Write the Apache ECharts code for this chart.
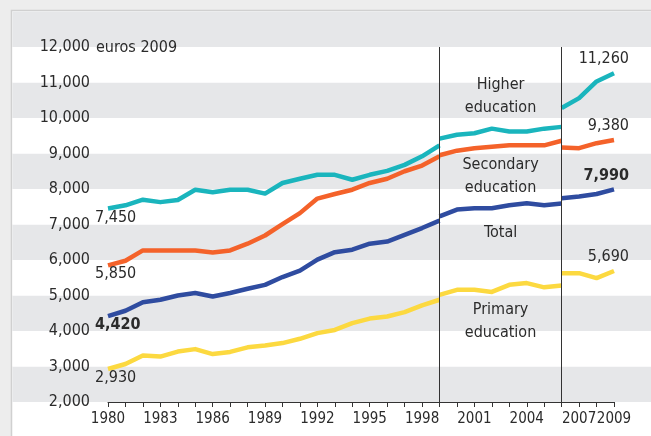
<!DOCTYPE html>
<html>
<head>
<meta charset="utf-8">
<script src="https://cdn.jsdelivr.net/npm/echarts@6/dist/echarts.min.js"></script>
<style>
  html, body { margin: 0; padding: 0; background: #ededed; }
  #chart { width: 651px; height: 436px; }
</style>
</head>
<body>
<div id="chart"></div>
<script>
// years for the three breaks in the series (1999 and 2006 change of method)
const years1 = [1980, 1981, 1982, 1983, 1984, 1985, 1986, 1987, 1988, 1989,
                1990, 1991, 1992, 1993, 1994, 1995, 1996, 1997, 1998, 1999];
const years2 = [1999, 2000, 2001, 2002, 2003, 2004, 2005, 2006];
const years3 = [2006, 2007, 2008, 2009];

const higher1 = [7450, 7540, 7700, 7630, 7690, 7980, 7910, 7980, 7980, 7870,
                 8170, 8290, 8400, 8400, 8260, 8400, 8510, 8680, 8920, 9230];
const higher2 = [9420, 9530, 9570, 9700, 9620, 9620, 9700, 9750];
const higher3 = [10280, 10560, 11030, 11260];

const secondary1 = [5850, 5980, 6270, 6270, 6270, 6270, 6210, 6270, 6460, 6690,
                    7010, 7320, 7730, 7860, 7980, 8170, 8290, 8500, 8660, 8920];
const secondary2 = [8950, 9080, 9150, 9190, 9230, 9230, 9230, 9360];
const secondary3 = [9170, 9150, 9290, 9380];

const total1 = [4420, 4570, 4810, 4880, 5000, 5070, 4970, 5070, 5190, 5300,
                5520, 5700, 6010, 6220, 6290, 6460, 6520, 6710, 6900, 7110];
const total2 = [7230, 7420, 7460, 7460, 7540, 7600, 7540, 7590];
const total3 = [7740, 7790, 7860, 7990];

const primary1 = [2930, 3070, 3310, 3280, 3420, 3490, 3350, 3410, 3540, 3590,
                  3660, 3780, 3940, 4030, 4220, 4350, 4410, 4530, 4720, 4880];
const primary2 = [5020, 5160, 5160, 5100, 5300, 5350, 5230, 5280];
const primary3 = [5630, 5630, 5490, 5690];

// in-chart captions
const noteText = ['Higher\neducation', 'Secondary\neducation', 'Total', 'Primary\neducation'];
const noteX = [2002.5, 2002.5, 2002.5, 2002.5];
const noteY = [10610, 8350, 6760, 4270];

const xLabelYears = [1980, 1983, 1986, 1989, 1992, 1995, 1998, 2001, 2004, 2007, 2009];
const breakYears = [1999, 2006];

const FONT = "'Liberation Sans Narrow', 'DejaVu Sans Condensed', 'Arial Narrow', sans-serif";
const FS = 16;
const TXT = '#2b2b2b';

const levels = [
    { name: 'Higher education', color: '#1ab5bd', segs: [higher1, higher2, higher3], bold: false },
    { name: 'Secondary education', color: '#f4622a', segs: [secondary1, secondary2, secondary3], bold: false },
    { name: 'Total', color: '#2f4ca0', segs: [total1, total2, total3], bold: true },
    { name: 'Primary education', color: '#fcd940', segs: [primary1, primary2, primary3], bold: false }
];
const segYears = [years1, years2, years3];

function fmt(v) {
    return Number(v).toLocaleString('en-US');
}

let series = [];
levels.forEach(function (lv) {
    lv.segs.forEach(function (vals, si) {
        let data = vals.map(function (v, i) {
            let item = { value: [segYears[si][i], v] };
            if (si === 0 && i === 0) {
                item.label = {
                    show: true, position: 'bottom', distance: 1,
                    align: 'left', offset: [-13, 0],
                    formatter: function (p) { return fmt(p.value[1]); },
                    fontFamily: FONT, fontSize: FS, color: TXT,
                    fontWeight: lv.bold ? 'bold' : 'normal'
                };
            }
            if (si === 2 && i === vals.length - 1) {
                item.label = {
                    show: true, position: 'top', distance: 6,
                    align: 'right', offset: [15, 0],
                    formatter: function (p) { return fmt(p.value[1]); },
                    fontFamily: FONT, fontSize: FS, color: TXT,
                    fontWeight: lv.bold ? 'bold' : 'normal'
                };
            }
            return item;
        });
        series.push({
            name: lv.name,
            type: 'line',
            xAxisIndex: 0,
            yAxisIndex: 0,
            data: data,
            symbol: 'circle',
            symbolSize: 0,
            showSymbol: true,
            showAllSymbol: true,
            label: { show: false },
            lineStyle: { color: lv.color, width: 4.5, cap: 'butt', join: 'round' },
            itemStyle: { color: lv.color },
            z: 3
        });
    });
});

// vertical break lines
series[0].markLine = {
    silent: true,
    symbol: 'none',
    label: { show: false },
    lineStyle: { color: '#333', width: 1, type: 'solid' },
    data: breakYears.map(function (y) {
        return [{ coord: [y, 2000] }, { coord: [y, 12000] }];
    })
};

series.push({
    name: 'notes',
    type: 'scatter',
    xAxisIndex: 0,
    yAxisIndex: 0,
    symbolSize: 0,
    silent: true,
    itemStyle: { opacity: 1 },
    data: noteX.map(function (x, i) { return [x, noteY[i], noteText[i]]; }),
    label: {
        show: true,
        position: 'inside',
        formatter: function (p) { return p.value[2]; },
        fontFamily: FONT, fontSize: FS, color: TXT,
        lineHeight: 23, align: 'center'
    },
    z: 4
});

let chart = echarts.init(document.getElementById('chart'));
let option = {
    animation: false,
    backgroundColor: '#ededed',
    graphic: [
        {
            type: 'rect', z: -1,
            shape: { x: 11.5, y: 10.5, width: 660, height: 440 },
            style: { fill: '#ffffff', stroke: '#d0d0d0', lineWidth: 1.5 }
        },
        {
            type: 'text', left: 96, top: 40, z: 5,
            style: { text: 'euros 2009', font: FS + 'px ' + FONT, fill: TXT }
        }
    ],
    grid: [
        { left: 108, right: 37, top: 11.5, bottom: 34 },
        { left: 12.5, right: 0, top: 11.5, bottom: 34 }
    ],
    xAxis: [
        {
            gridIndex: 0,
            type: 'value',
            min: 1980, max: 2009, interval: 1,
            axisLine: { show: true, lineStyle: { color: '#333', width: 1 } },
            axisTick: { show: true, length: 5, lineStyle: { color: '#333' } },
            splitLine: { show: false },
            axisLabel: {
                margin: 10,
                fontFamily: FONT, fontSize: 15, color: TXT,
                formatter: function (v) { return xLabelYears.indexOf(v) >= 0 ? String(v) : ''; }
            }
        },
        { gridIndex: 1, type: 'value', show: false, min: 0, max: 1 }
    ],
    yAxis: [
        {
            gridIndex: 0,
            type: 'value',
            min: 2000, max: 13000, interval: 1000,
            axisLine: { show: false },
            axisTick: { show: false },
            splitLine: { show: false },
            axisLabel: {
                margin: 18,
                fontFamily: FONT, fontSize: FS, color: TXT,
                formatter: function (v) { return v >= 13000 ? '' : fmt(v); }
            }
        },
        {
            gridIndex: 1,
            type: 'value',
            min: 2000, max: 13000, interval: 1000,
            axisLine: { show: false },
            axisTick: { show: false },
            axisLabel: { show: false },
            splitLine: { show: false },
            splitArea: { show: true, areaStyle: { color: ['#e6e7e9', '#ffffff'] } }
        }
    ],
    series: series
};
chart.setOption(option);
</script>
</body>
</html>
